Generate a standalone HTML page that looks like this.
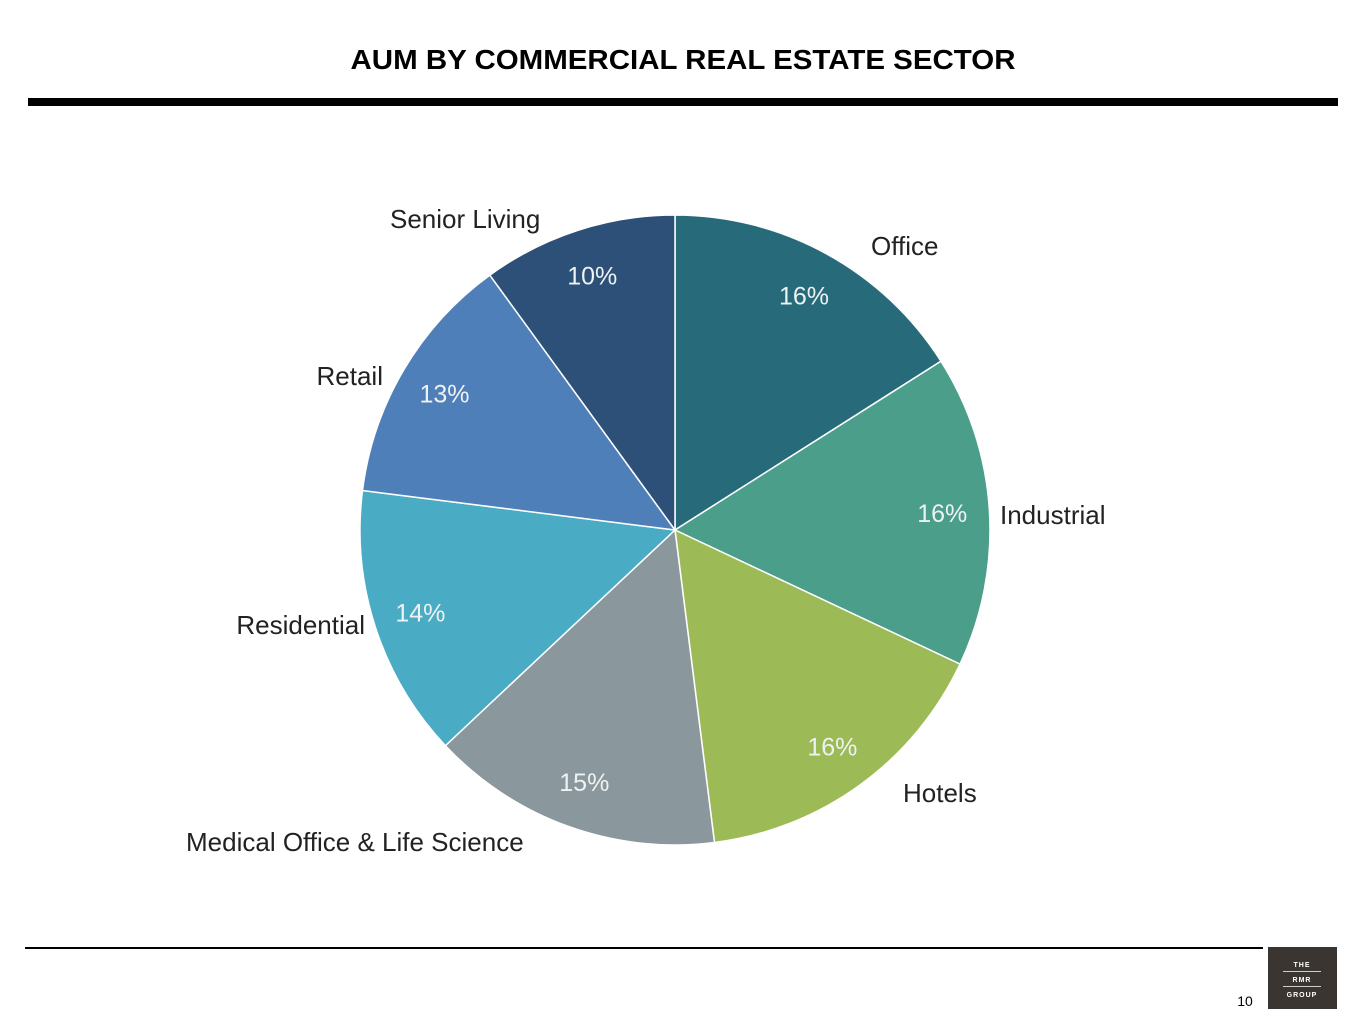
<!DOCTYPE html>
<html><head><meta charset="utf-8"><style>
body{margin:0;background:#fff;width:1365px;height:1024px;overflow:hidden;font-family:"Liberation Sans",sans-serif}
</style></head><body>
<svg width="1365" height="1024" viewBox="0 0 1365 1024">
<text x="683" y="69" text-anchor="middle" font-size="28" font-weight="bold" fill="#000" textLength="665" lengthAdjust="spacingAndGlyphs">AUM BY COMMERCIAL REAL ESTATE SECTOR</text>
<rect x="28" y="98" width="1310" height="8" fill="#000"/>
<g id="pie"></g>
<rect x="25" y="947" width="1238" height="2" fill="#000"/>
<text x="1245" y="1006" text-anchor="middle" font-size="14" fill="#000">10</text>
<g>
<rect x="1268" y="947" width="69" height="62" fill="#3a3530"/>
<text x="1302" y="967" text-anchor="middle" font-size="7" font-weight="bold" fill="#fff" letter-spacing="1">THE</text>
<rect x="1283" y="971" width="38" height="1" fill="#ccc"/>
<text x="1302" y="982" text-anchor="middle" font-size="7" font-weight="bold" fill="#fff" letter-spacing="1">RMR</text>
<rect x="1283" y="986" width="38" height="1" fill="#ccc"/>
<text x="1302" y="997" text-anchor="middle" font-size="7" font-weight="bold" fill="#fff" letter-spacing="1">GROUP</text>
</g>
</svg>
<script>
const categories=["Office","Industrial","Hotels","Medical Office & Life Science","Residential","Retail","Senior Living"];
const values=[16,16,16,15,14,13,10];
const valueLabels=["16%","16%","16%","15%","14%","13%","10%"];
const colors=["#276b7a","#4a9e8a","#9cbb57","#8a979c","#4aabc4","#4f7fb9","#2d5078"];
// layout only: category label anchor x, baseline y, text-anchor
const labelLayout=[[871,255,'start'],[1000,524,'start'],[903,802,'start'],[186,851,'start'],[365,634,'end'],[383,385,'end'],[390,228,'start']];
const g=document.getElementById('pie');
const NS="http://www.w3.org/2000/svg";
const cx=675,cy=530,r=315;
const total=values.reduce((a,b)=>a+b,0);
function pt(a,rr){return [cx+rr*Math.sin(a),cy-rr*Math.cos(a)];}
let a0=0;
values.forEach((v,i)=>{
 const a1=a0+v/total*2*Math.PI;
 const p0=pt(a0,r),p1=pt(a1,r);
 const path=document.createElementNS(NS,'path');
 path.setAttribute('d',`M${cx},${cy}L${p0[0]},${p0[1]}A${r},${r} 0 ${a1-a0>Math.PI?1:0} 1 ${p1[0]},${p1[1]}Z`);
 path.setAttribute('fill',colors[i]);path.setAttribute('stroke','#fff');path.setAttribute('stroke-width','1.5');
 
 
 g.appendChild(path);
 const m=(a0+a1)/2;
 const lp=pt(m,r*0.85);
 const t=document.createElementNS(NS,'text');
 t.setAttribute('x',lp[0]);t.setAttribute('y',lp[1]+9);t.setAttribute('text-anchor','middle');
 t.setAttribute('font-size','25');t.setAttribute('fill','#eef2f3');t.textContent=valueLabels[i];
 
 
 g.appendChild(t);
 const L=labelLayout[i];
 const c=document.createElementNS(NS,'text');
 c.setAttribute('x',L[0]);c.setAttribute('y',L[1]);
 c.setAttribute('text-anchor',L[2]);
 c.setAttribute('font-size','26');c.setAttribute('fill','#222');c.textContent=categories[i];
 
 
 g.appendChild(c);
 a0=a1;
});
</script>
</body></html>
